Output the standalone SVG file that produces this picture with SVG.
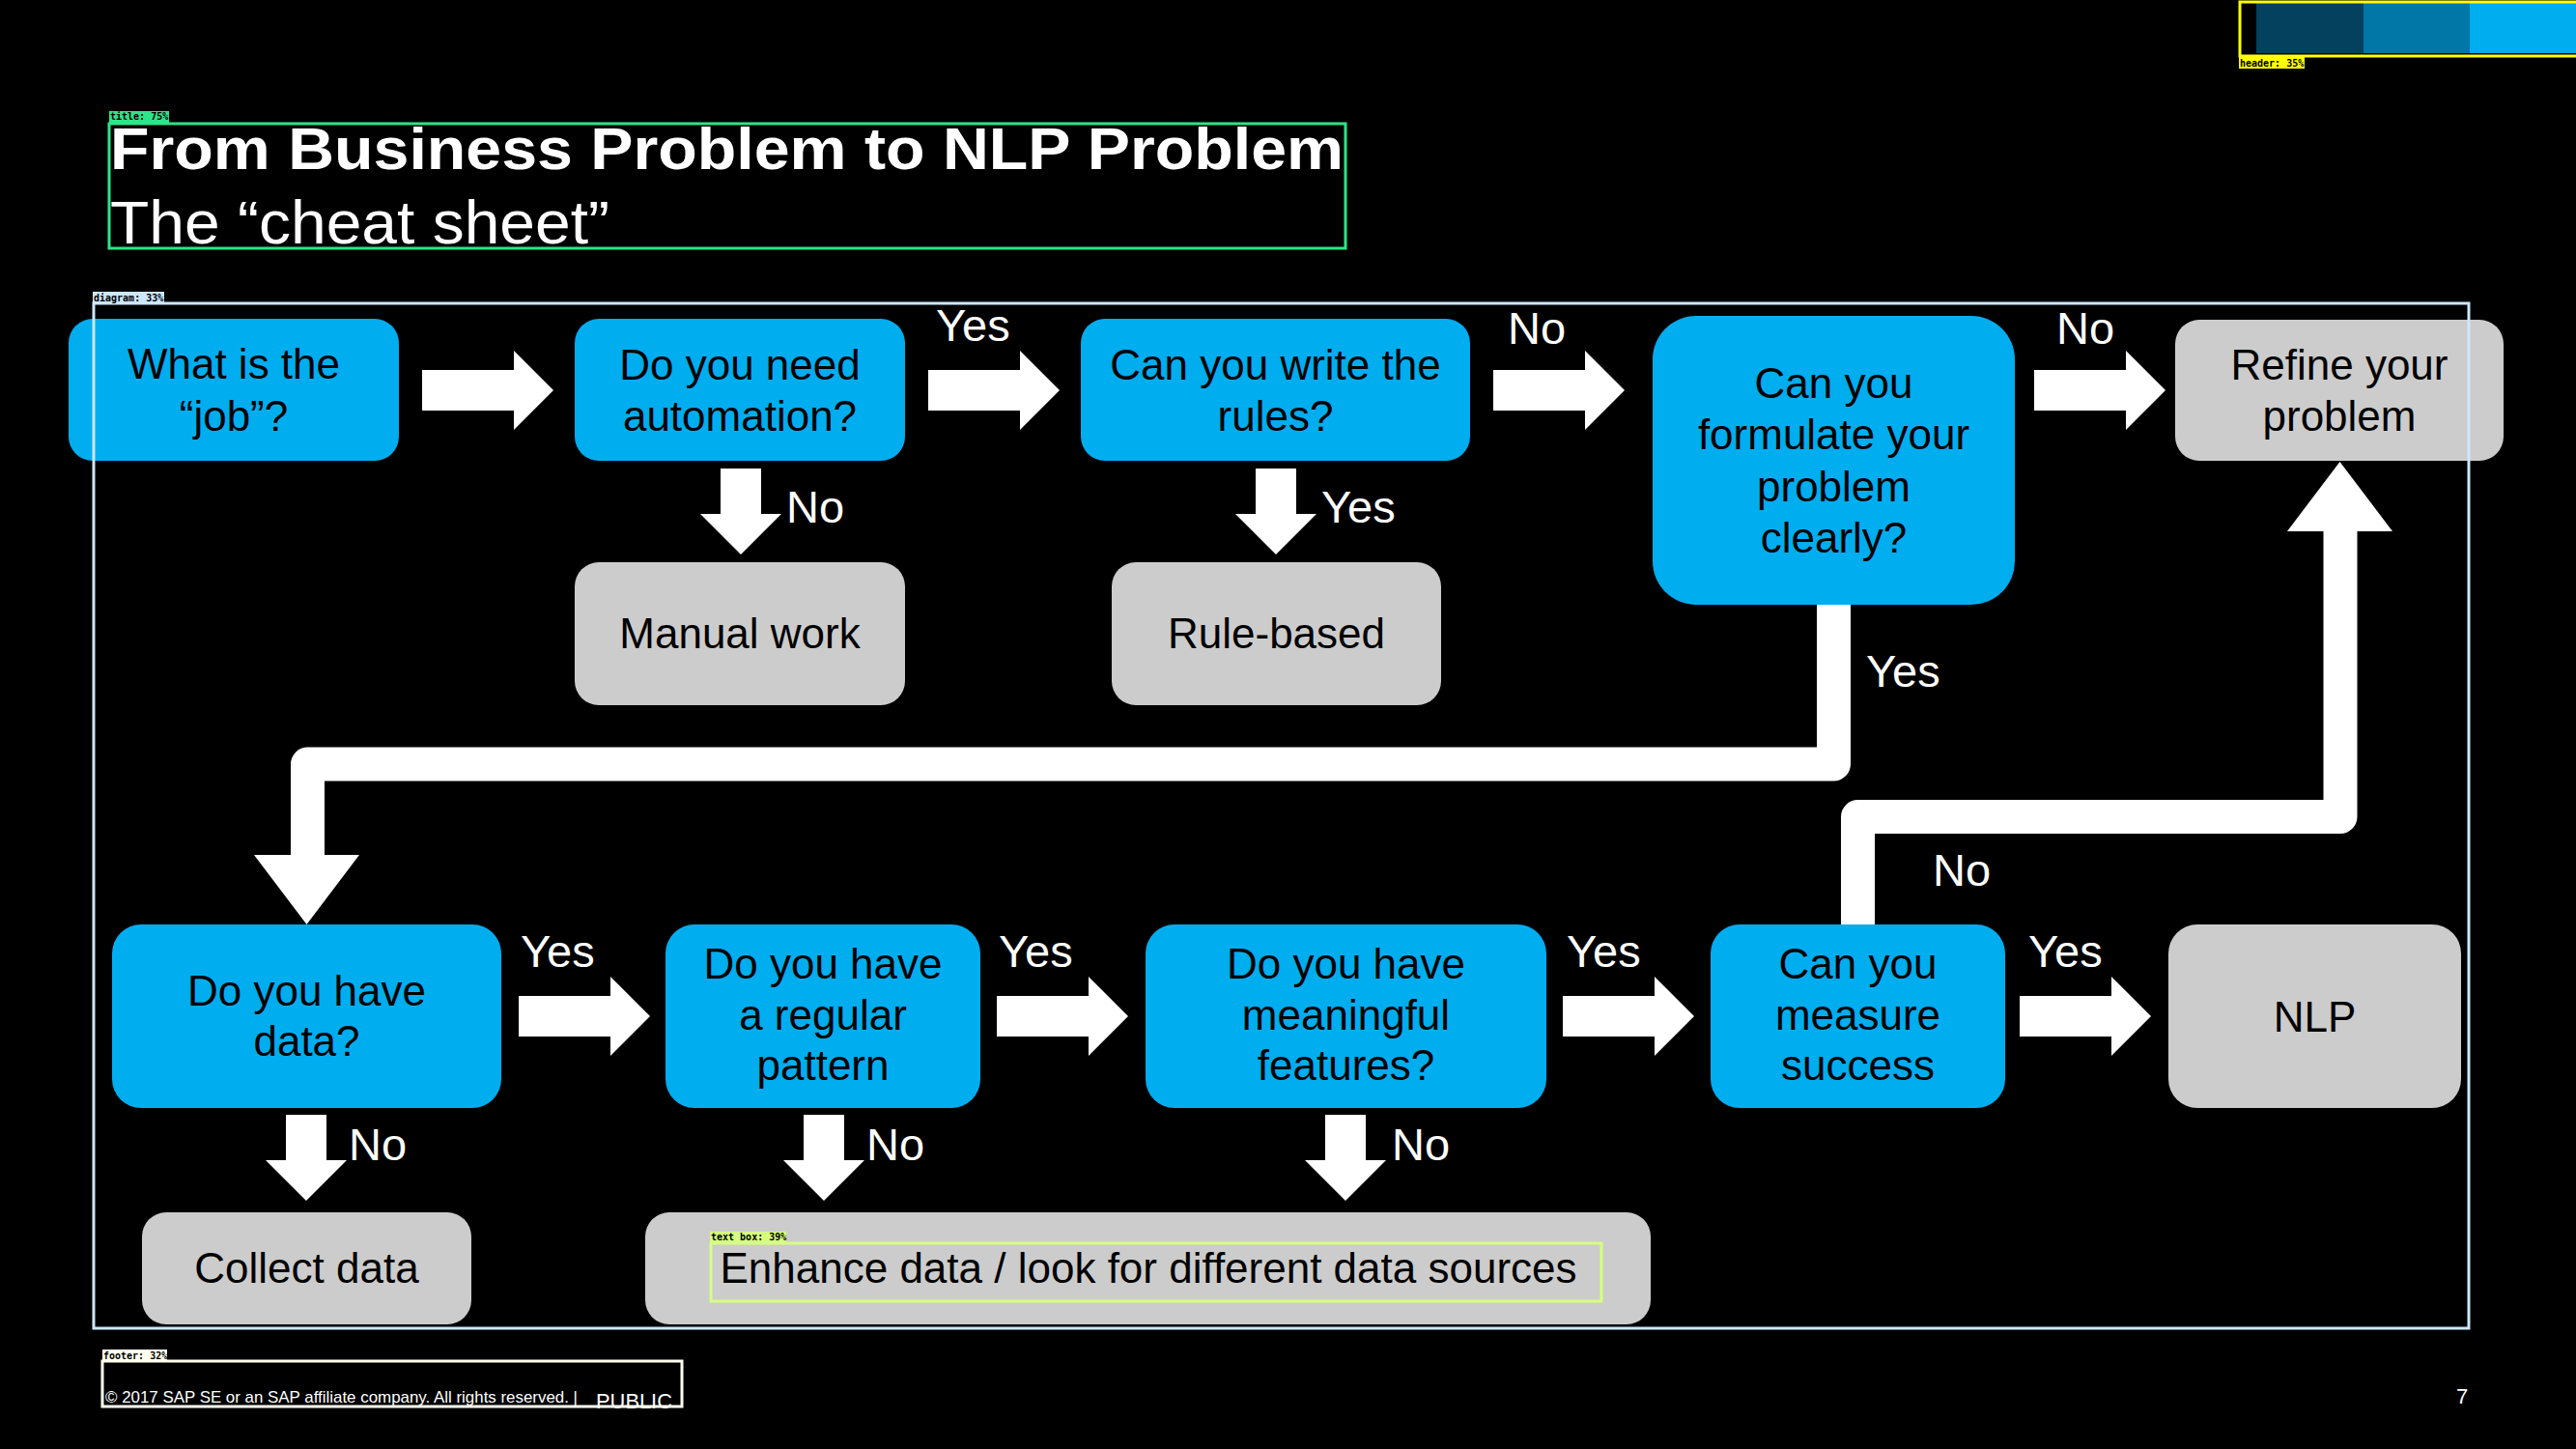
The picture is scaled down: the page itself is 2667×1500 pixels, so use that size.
<svg xmlns="http://www.w3.org/2000/svg" xmlns:xlink="http://www.w3.org/1999/xlink" width="2667" height="1500" viewBox="0 0 2667 1500">
  <style>
    .q { fill: #00adef; }
    .r { fill: #cccccc; }
    .t { font-family: "Liberation Sans", Arial, sans-serif; font-size: 44px; fill: #000000; text-anchor: middle; }
    .lbl { font-family: "Liberation Sans", Arial, sans-serif; font-size: 47px; fill: #ffffff; }
    .arrow { fill: #ffffff; }
    .link { fill: none; stroke: #ffffff; stroke-width: 35; stroke-linejoin: round; }
    .tag { font-family: "DejaVu Sans Mono", "Liberation Mono", monospace; font-size: 10px; font-weight: bold; fill: #000000; }
    .zone { fill: none; stroke-width: 3; }
  </style>
  <defs>
    <!-- block arrow pointing right, origin at left end of the shaft, vertically centred -->
    <path id="arrR" d="M0,-21 H95 V-41 L136,0 L95,41 V21 H0 Z"/>
    <!-- block arrow pointing down, origin at top centre of the shaft -->
    <path id="arrD" d="M-21,0 V47 H-42 L0,89 L42,47 H21 V0 Z"/>
  </defs>

  <rect x="0" y="0" width="2667" height="1500" fill="#000000"/>

  <!-- header colour bars -->
  <g id="header">
    <rect x="2336" y="2" width="111" height="53" fill="#03415f"/>
    <rect x="2447" y="2" width="110" height="53" fill="#0077a7"/>
    <rect x="2557" y="2" width="110" height="53" fill="#00aeef"/>
  </g>

  <!-- title -->
  <g id="title">
    <text x="114" y="175" font-family="'Liberation Sans', Arial, sans-serif" font-size="62" font-weight="bold" fill="#ffffff" textLength="1277" lengthAdjust="spacingAndGlyphs">From Business Problem to NLP Problem</text>
    <text x="114" y="252" font-family="'Liberation Sans', Arial, sans-serif" font-size="63" fill="#ffffff" textLength="517" lengthAdjust="spacingAndGlyphs">The “cheat sheet”</text>
  </g>

  <!-- connectors -->
  <g id="connectors">
    <use xlink:href="#arrR" class="arrow" x="437" y="404"/>
    <use xlink:href="#arrR" class="arrow" x="961" y="404"/>
    <use xlink:href="#arrR" class="arrow" x="1546" y="404"/>
    <use xlink:href="#arrR" class="arrow" x="2106" y="404"/>
    <use xlink:href="#arrD" class="arrow" x="767" y="485"/>
    <use xlink:href="#arrD" class="arrow" x="1321" y="485"/>

    <path class="link" d="M1898.5,626 V791 H318.5 V886"/>
    <polygon class="arrow" points="263,885 372,885 317.5,957"/>
    <path class="link" d="M1923.5,957 V845.5 H2423 V549"/>
    <polygon class="arrow" points="2368,550 2477,550 2422.5,478"/>

    <use xlink:href="#arrR" class="arrow" x="537" y="1052"/>
    <use xlink:href="#arrR" class="arrow" x="1032" y="1052"/>
    <use xlink:href="#arrR" class="arrow" x="1618" y="1052"/>
    <use xlink:href="#arrR" class="arrow" x="2091" y="1052"/>
    <use xlink:href="#arrD" class="arrow" x="317" y="1154"/>
    <use xlink:href="#arrD" class="arrow" x="853" y="1154"/>
    <use xlink:href="#arrD" class="arrow" x="1393" y="1154"/>

    <text class="lbl" x="969" y="353">Yes</text>
    <text class="lbl" x="1561" y="356">No</text>
    <text class="lbl" x="2129" y="356">No</text>
    <text class="lbl" x="814" y="541">No</text>
    <text class="lbl" x="1368" y="541">Yes</text>
    <text class="lbl" x="1932" y="711">Yes</text>
    <text class="lbl" x="2001" y="917">No</text>
    <text class="lbl" x="539" y="1001">Yes</text>
    <text class="lbl" x="1034" y="1001">Yes</text>
    <text class="lbl" x="1622" y="1001">Yes</text>
    <text class="lbl" x="2100" y="1001">Yes</text>
    <text class="lbl" x="361" y="1201">No</text>
    <text class="lbl" x="897" y="1201">No</text>
    <text class="lbl" x="1441" y="1201">No</text>
  </g>

  <!-- nodes: top row -->
  <g id="node-job">
    <rect class="q" x="71" y="330" width="342" height="147" rx="25"/>
    <text class="t" x="242" y="392">What is the</text>
    <text class="t" x="242" y="446">“job”?</text>
  </g>
  <g id="node-automation">
    <rect class="q" x="595" y="330" width="342" height="147" rx="25"/>
    <text class="t" x="766" y="393">Do you need</text>
    <text class="t" x="766" y="446">automation?</text>
  </g>
  <g id="node-rules">
    <rect class="q" x="1119" y="330" width="403" height="147" rx="25"/>
    <text class="t" x="1320.5" y="393">Can you write the</text>
    <text class="t" x="1320.5" y="446">rules?</text>
  </g>
  <g id="node-formulate">
    <rect class="q" x="1711" y="327" width="375" height="299" rx="45"/>
    <text class="t" x="1898.5" y="412">Can you</text>
    <text class="t" x="1898.5" y="465">formulate your</text>
    <text class="t" x="1898.5" y="519">problem</text>
    <text class="t" x="1898.5" y="572">clearly?</text>
  </g>
  <g id="node-refine">
    <rect class="r" x="2252" y="331" width="340" height="146" rx="25"/>
    <text class="t" x="2422" y="393">Refine your</text>
    <text class="t" x="2422" y="446">problem</text>
  </g>
  <g id="node-manual">
    <rect class="r" x="595" y="582" width="342" height="148" rx="25"/>
    <text class="t" x="766" y="671">Manual work</text>
  </g>
  <g id="node-rulebased">
    <rect class="r" x="1151" y="582" width="341" height="148" rx="25"/>
    <text class="t" x="1321.5" y="671">Rule-based</text>
  </g>

  <!-- nodes: bottom row -->
  <g id="node-data">
    <rect class="q" x="116" y="957" width="403" height="190" rx="30"/>
    <text class="t" x="317.5" y="1041">Do you have</text>
    <text class="t" x="317.5" y="1093">data?</text>
  </g>
  <g id="node-pattern">
    <rect class="q" x="689" y="957" width="326" height="190" rx="30"/>
    <text class="t" x="852" y="1013">Do you have</text>
    <text class="t" x="852" y="1066">a regular</text>
    <text class="t" x="852" y="1118">pattern</text>
  </g>
  <g id="node-features">
    <rect class="q" x="1186" y="957" width="415" height="190" rx="30"/>
    <text class="t" x="1393.5" y="1013">Do you have</text>
    <text class="t" x="1393.5" y="1066">meaningful</text>
    <text class="t" x="1393.5" y="1118">features?</text>
  </g>
  <g id="node-measure">
    <rect class="q" x="1771" y="957" width="305" height="190" rx="30"/>
    <text class="t" x="1923.5" y="1013">Can you</text>
    <text class="t" x="1923.5" y="1066">measure</text>
    <text class="t" x="1923.5" y="1118">success</text>
  </g>
  <g id="node-nlp">
    <rect class="r" x="2245" y="957" width="303" height="190" rx="30"/>
    <text class="t" x="2396.5" y="1068">NLP</text>
  </g>
  <g id="node-collect">
    <rect class="r" x="147" y="1255" width="341" height="116" rx="25"/>
    <text class="t" x="317.5" y="1328">Collect data</text>
  </g>
  <g id="node-enhance">
    <rect class="r" x="668" y="1255" width="1041" height="116" rx="25"/>
    <text class="t" x="1189" y="1328">Enhance data / look for different data sources</text>
  </g>

  <!-- footer -->
  <g id="footer">
    <text x="109" y="1452" font-family="'Liberation Sans', Arial, sans-serif" font-size="17" fill="#ffffff" textLength="489" lengthAdjust="spacingAndGlyphs">© 2017 SAP SE or an SAP affiliate company. All rights reserved. |</text>
    <text x="617" y="1458" font-family="'Liberation Sans', Arial, sans-serif" font-size="22" fill="#ffffff" textLength="79" lengthAdjust="spacingAndGlyphs">PUBLIC</text>
    <text x="2543" y="1453" font-family="'Liberation Sans', Arial, sans-serif" font-size="22" fill="#ffffff">7</text>
  </g>

  <!-- layout region frames with their tags -->
  <g id="regions">
    <rect class="zone" x="2319" y="2" width="350" height="56" stroke="#ffff00" stroke-width="4"/>
    <rect x="2318" y="59" width="68" height="12" fill="#ffff00"/>
    <text class="tag" x="2319" y="69">header: 35%</text>

    <rect class="zone" x="113" y="128" width="1280" height="129" stroke="#2be58a"/>
    <rect x="113" y="115" width="62" height="12" fill="#2be58a"/>
    <text class="tag" x="114" y="124">title: 75%</text>

    <rect class="zone" x="97" y="314" width="2459" height="1061" stroke="#cde7ff"/>
    <rect x="96" y="302" width="74" height="12" fill="#cde7ff"/>
    <text class="tag" x="97" y="312">diagram: 33%</text>

    <rect class="zone" x="736" y="1287" width="922" height="60" stroke="#d6ff80"/>
    <rect x="735" y="1275" width="79" height="11" fill="#d6ff80"/>
    <text class="tag" x="736" y="1284">text box: 39%</text>

    <rect class="zone" x="106" y="1409" width="600" height="47" stroke="#fffff0"/>
    <rect x="106" y="1397" width="67" height="12" fill="#fffff0"/>
    <text class="tag" x="107" y="1407">footer: 32%</text>
  </g>
</svg>
